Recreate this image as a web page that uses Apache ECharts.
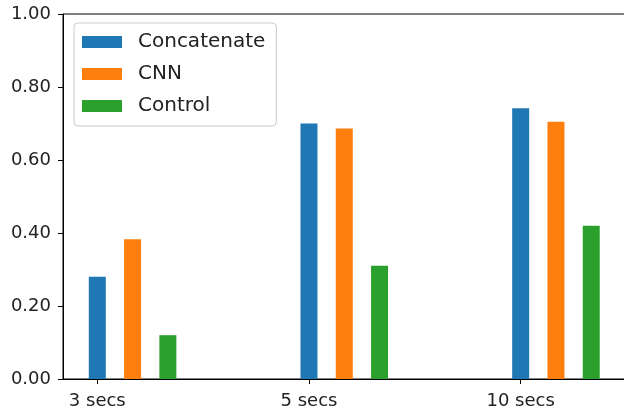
<!DOCTYPE html>
<html>
<head>
<meta charset="utf-8">
<script src="https://cdn.jsdelivr.net/npm/echarts@6/dist/echarts.min.js"></script>
<style>
html,body{margin:0;padding:0;background:#fff;}
#chart{width:624px;height:414px;}
</style>
</head>
<body>
<div id="chart"></div>
<script>
const categories = ['3 secs', '5 secs', '10 secs'];
const seriesNames = ['Concatenate', 'CNN', 'Control'];
const concatenate = [0.280, 0.700, 0.742];
const cnn = [0.383, 0.686, 0.705];
const control = [0.120, 0.310, 0.420];
const yTicks = [0, 0.2, 0.4, 0.6, 0.8, 1.0];
const colors = ['#1f77b4', '#ff7f0e', '#2ca02c'];

const values = [concatenate, cnn, control];
const offset = 1 / 6;
const font = 'DejaVu Sans';

const chart = echarts.init(document.getElementById('chart'), null, {renderer: 'canvas'});
chart.setOption({
  animation: false,
  backgroundColor: '#fff',
  grid: {left: 63, right: -4, top: 14, bottom: 35, show: true, borderColor: '#000', borderWidth: 1, backgroundColor: 'transparent', containLabel: false, outerBoundsMode: 'none'},
  legend: {
    orient: 'vertical', left: 74, top: 23,
    data: seriesNames,
    itemWidth: 40, itemHeight: 12, itemGap: 10,
    padding: [8, 11, 9, 8],
    borderColor: '#cccccc', borderWidth: 1, borderRadius: 4,
    backgroundColor: 'rgba(255,255,255,0.8)',
    icon: 'rect',
    textStyle: {fontFamily: font, fontSize: 20, color: '#222', lineHeight: 22, padding: [0, 0, 0, 11]}
  },
  xAxis: {
    type: 'value', min: -0.162, max: 2.507,
    splitLine: {show: false},
    axisLine: {show: true, onZero: false, lineStyle: {color: '#000', width: 1}},
    axisTick: {show: true, customValues: [0, 1, 2], length: 5, lineStyle: {color: '#000'}},
    axisLabel: {
      customValues: [0, 1, 2],
      formatter: v => categories[Math.round(v)],
      fontFamily: font, fontSize: 18, color: '#222', margin: 13
    }
  },
  yAxis: {
    type: 'value', min: 0, max: 1, interval: 0.2,
    splitLine: {show: false},
    axisLine: {show: true, onZero: false, lineStyle: {color: '#000', width: 1}},
    axisTick: {show: true, length: 5, lineStyle: {color: '#000'}},
    axisLabel: {formatter: v => v.toFixed(2), fontFamily: font, fontSize: 18, color: '#222', margin: 12}
  },
  series: seriesNames.map((name, s) => ({
    name, type: 'bar',
    barWidth: 17, barGap: '-100%',
    itemStyle: {color: colors[s]},
    data: values[s].map((v, i) => [i + s * offset, v])
  }))
});
</script>
</body>
</html>
